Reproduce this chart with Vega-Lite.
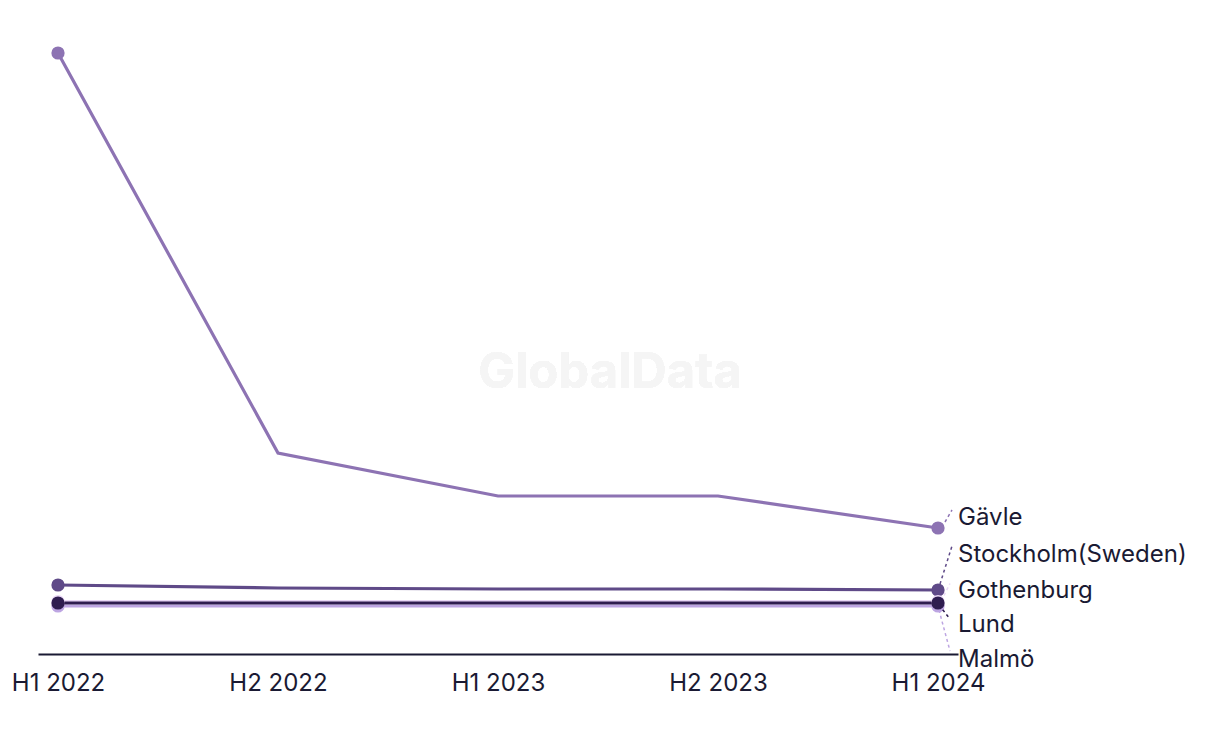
{
  "$schema": "https://vega.github.io/schema/vega-lite/v6.json",
  "autosize": "none",
  "width": 920,
  "height": 650,
  "padding": {"left": 38, "top": 4, "right": 262, "bottom": 90},
  "background": "white",
  "config": {"view": {"stroke": null}, "font": "Inter"},
  "data": {"values": [
    {"city": "Gävle", "period": "H1 2022", "value": 601},
    {"city": "Gävle", "period": "H2 2022", "value": 201},
    {"city": "Gävle", "period": "H1 2023", "value": 158},
    {"city": "Gävle", "period": "H2 2023", "value": 158},
    {"city": "Gävle", "period": "H1 2024", "value": 126},
    {"city": "Stockholm(Sweden)", "period": "H1 2022", "value": 69},
    {"city": "Stockholm(Sweden)", "period": "H2 2022", "value": 66},
    {"city": "Stockholm(Sweden)", "period": "H1 2023", "value": 65},
    {"city": "Stockholm(Sweden)", "period": "H2 2023", "value": 65},
    {"city": "Stockholm(Sweden)", "period": "H1 2024", "value": 64},
    {"city": "Gothenburg", "period": "H1 2022", "value": 52.5},
    {"city": "Gothenburg", "period": "H2 2022", "value": 52.5},
    {"city": "Gothenburg", "period": "H1 2023", "value": 52.5},
    {"city": "Gothenburg", "period": "H2 2023", "value": 52.5},
    {"city": "Gothenburg", "period": "H1 2024", "value": 52.5},
    {"city": "Malmö", "period": "H1 2022", "value": 48},
    {"city": "Malmö", "period": "H2 2022", "value": 48},
    {"city": "Malmö", "period": "H1 2023", "value": 48},
    {"city": "Malmö", "period": "H2 2023", "value": 48},
    {"city": "Malmö", "period": "H1 2024", "value": 48},
    {"city": "Lund", "period": "H1 2022", "value": 51},
    {"city": "Lund", "period": "H2 2022", "value": 51},
    {"city": "Lund", "period": "H1 2023", "value": 51},
    {"city": "Lund", "period": "H2 2023", "value": 51},
    {"city": "Lund", "period": "H1 2024", "value": 51}
  ]},
  "encoding": {
    "x": {
      "field": "period", "type": "ordinal",
      "sort": ["H1 2022", "H2 2022", "H1 2023", "H2 2023", "H1 2024"],
      "scale": {"type": "point", "padding": 0.0909},
      "axis": {
        "title": null, "domainColor": "#1a1a33", "domainWidth": 2, "ticks": false, "grid": false,
        "labelFontSize": 24, "labelColor": "#1a1a33", "labelPadding": 17, "labelAngle": 0, "labelFont": "Inter"
      }
    },
    "y": {"field": "value", "type": "quantitative", "scale": {"domain": [0, 650], "nice": false, "zero": true}, "axis": null},
    "color": {
      "field": "city", "type": "nominal",
      "scale": {
        "domain": ["Gävle", "Stockholm(Sweden)", "Gothenburg", "Malmö", "Lund"],
        "range": ["#8d73b3", "#5f4a88", "#ead8f6", "#bda5e2", "#2f1d50"]
      },
      "legend": null
    }
  },
  "layer": [
    {
      "mark": {"type": "text", "text": "GlobalData", "fontSize": 49, "fontWeight": "bold", "dx": 112, "font": "Inter"},
      "encoding": {"x": {"datum": "H1 2023"}, "y": {"datum": 281}, "color": {"value": "#f5f5f5"}}
    },
    {"mark": {"type": "line", "strokeWidth": 3.2}, "encoding": {"detail": {"field": "city"}}},
    {
      "transform": [{"filter": "datum.period === 'H1 2022' || datum.period === 'H1 2024'"}],
      "mark": {"type": "point", "filled": true, "size": 175, "opacity": 1}
    },
    {
      "transform": [{"filter": "datum.period === 'H1 2024' && datum.city === 'Gävle'"}],
      "mark": {"type": "rule", "strokeDash": [3, 3], "strokeWidth": 1.5, "xOffset": 7, "yOffset": -6, "x2Offset": 14, "y2Offset": -18},
      "encoding": {"x2": {"field": "period"}, "y2": {"field": "value"}}
    },
    {
      "transform": [{"filter": "datum.period === 'H1 2024' && datum.city === 'Stockholm(Sweden)'"}],
      "mark": {"type": "rule", "strokeDash": [3, 3], "strokeWidth": 1.5, "xOffset": 2, "yOffset": -6, "x2Offset": 14, "y2Offset": -44},
      "encoding": {"x2": {"field": "period"}, "y2": {"field": "value"}}
    },
    {
      "transform": [{"filter": "datum.period === 'H1 2024' && datum.city === 'Gothenburg'"}],
      "mark": {"type": "rule", "strokeDash": [3, 3], "strokeWidth": 1.5, "xOffset": 6, "yOffset": -6, "x2Offset": 12, "y2Offset": -18},
      "encoding": {"x2": {"field": "period"}, "y2": {"field": "value"}}
    },
    {
      "transform": [{"filter": "datum.period === 'H1 2024' && datum.city === 'Lund'"}],
      "mark": {"type": "rule", "strokeDash": [3, 3], "strokeWidth": 1.5, "xOffset": 1, "yOffset": 2, "x2Offset": 12, "y2Offset": 16},
      "encoding": {"x2": {"field": "period"}, "y2": {"field": "value"}}
    },
    {
      "transform": [{"filter": "datum.period === 'H1 2024' && datum.city === 'Malmö'"}],
      "mark": {"type": "rule", "strokeDash": [3, 3], "strokeWidth": 1.5, "xOffset": 1, "yOffset": 4, "x2Offset": 12, "y2Offset": 45},
      "encoding": {"x2": {"field": "period"}, "y2": {"field": "value"}}
    },
    {
      "transform": [{"filter": "datum.period === 'H1 2024' && datum.city === 'Gävle'"}],
      "mark": {"type": "text", "align": "left", "baseline": "middle", "dx": 20, "dy": -10, "fontSize": 24, "font": "Inter"},
      "encoding": {"text": {"field": "city"}, "color": {"value": "#1a1a33"}}
    },
    {
      "transform": [{"filter": "datum.period === 'H1 2024' && datum.city === 'Stockholm(Sweden)'"}],
      "mark": {"type": "text", "align": "left", "baseline": "middle", "dx": 20, "dy": -35, "fontSize": 24, "font": "Inter"},
      "encoding": {"text": {"field": "city"}, "color": {"value": "#1a1a33"}}
    },
    {
      "transform": [{"filter": "datum.period === 'H1 2024' && datum.city === 'Gothenburg'"}],
      "mark": {"type": "text", "align": "left", "baseline": "middle", "dx": 20, "dy": -11, "fontSize": 24, "font": "Inter"},
      "encoding": {"text": {"field": "city"}, "color": {"value": "#1a1a33"}}
    },
    {
      "transform": [{"filter": "datum.period === 'H1 2024' && datum.city === 'Lund'"}],
      "mark": {"type": "text", "align": "left", "baseline": "middle", "dx": 20, "dy": 22, "fontSize": 24, "font": "Inter"},
      "encoding": {"text": {"field": "city"}, "color": {"value": "#1a1a33"}}
    },
    {
      "transform": [{"filter": "datum.period === 'H1 2024' && datum.city === 'Malmö'"}],
      "mark": {"type": "text", "align": "left", "baseline": "middle", "dx": 20, "dy": 54, "fontSize": 24, "font": "Inter"},
      "encoding": {"text": {"field": "city"}, "color": {"value": "#1a1a33"}}
    }
  ]
}
